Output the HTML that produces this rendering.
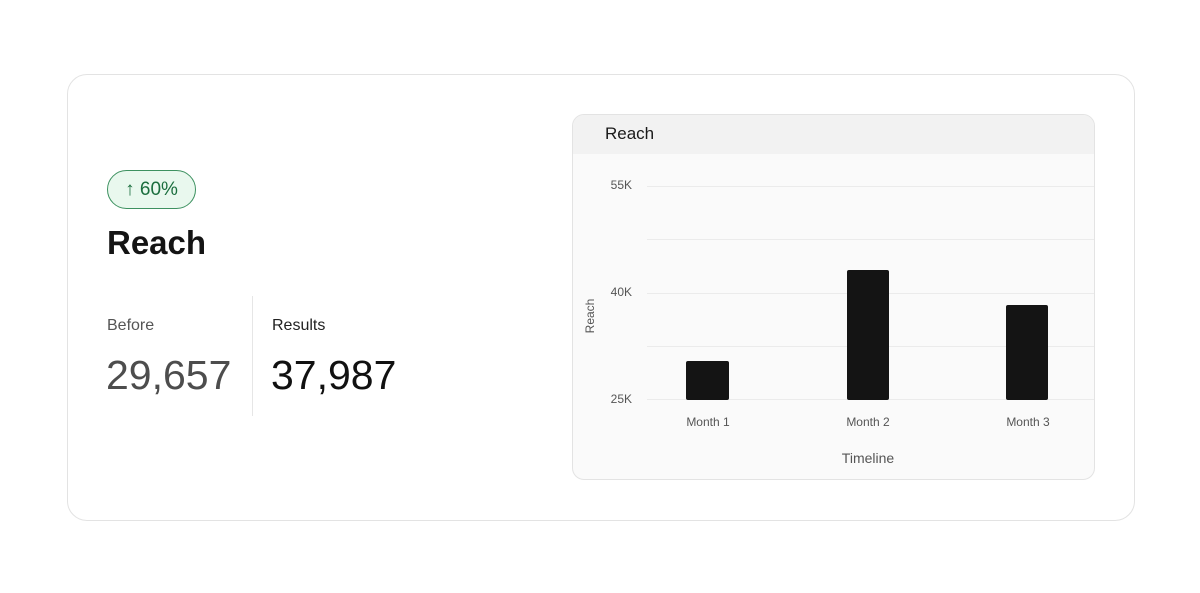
<!DOCTYPE html>
<html><head><style>
body{margin:0;width:1200px;height:593px;background:#fff;font-family:"Liberation Sans",sans-serif;position:relative;overflow:hidden}
.a{position:absolute}
</style></head><body>
<div class="a" style="left:67px;top:74px;width:1066px;height:445px;border:1px solid #e3e3e3;border-radius:20px;background:#fff"></div>
<div class="a" style="left:107px;top:170px;width:87px;height:37px;border:1px solid #3d9160;border-radius:20px;background:#e9f8ee;color:#1b6e3e;font-size:19px;line-height:37px;text-align:center">↑ 60%</div>
<div class="a" style="left:107px;top:224px;font-size:33px;font-weight:600;color:#141414">Reach</div>
<div class="a" style="left:107px;top:317px;font-size:16px;color:#555">Before</div>
<div class="a" style="left:272px;top:317px;font-size:16px;color:#222">Results</div>
<div class="a" style="left:106px;top:352px;font-size:41px;color:#4d4d4d">29,657</div>
<div class="a" style="left:271px;top:352px;font-size:41px;color:#111">37,987</div>
<div class="a" style="left:252px;top:296px;width:1px;height:120px;background:#e6e6e6"></div>
<div class="a" style="left:572px;top:114px;width:521px;height:364px;border:1px solid #e3e3e3;border-radius:12px;background:#fafafa;overflow:hidden">
 <div style="height:39px;background:#f2f2f2"></div>
</div>
<div class="a" style="left:605px;top:124px;font-size:17px;color:#1a1a1a">Reach</div>
<svg class="a" style="left:0;top:0" width="1200" height="593">
<g stroke="#ebebeb" stroke-width="1">
<line x1="647" x2="1094" y1="186.5" y2="186.5"/><line x1="647" x2="1094" y1="239.5" y2="239.5"/>
<line x1="647" x2="1094" y1="293.5" y2="293.5"/><line x1="647" x2="1094" y1="346.5" y2="346.5"/>
<line x1="647" x2="1094" y1="399.5" y2="399.5"/></g>
<g font-family="Liberation Sans, sans-serif" font-size="12" fill="#555">
<text x="632" y="189" text-anchor="end">55K</text><text x="632" y="296" text-anchor="end">40K</text><text x="632" y="403" text-anchor="end">25K</text>
<text x="708" y="426" text-anchor="middle">Month 1</text><text x="868" y="426" text-anchor="middle">Month 2</text><text x="1028" y="426" text-anchor="middle">Month 3</text>
<text x="868" y="463" text-anchor="middle" font-size="14">Timeline</text>
<text transform="translate(594,316) rotate(-90)" text-anchor="middle">Reach</text></g>
<g fill="#141414">
<rect x="686" y="361" width="43" height="39" rx="2"/><rect x="847" y="270" width="42" height="130" rx="2"/><rect x="1006" y="305" width="42" height="95" rx="2"/></g>
</svg>
</body></html>
